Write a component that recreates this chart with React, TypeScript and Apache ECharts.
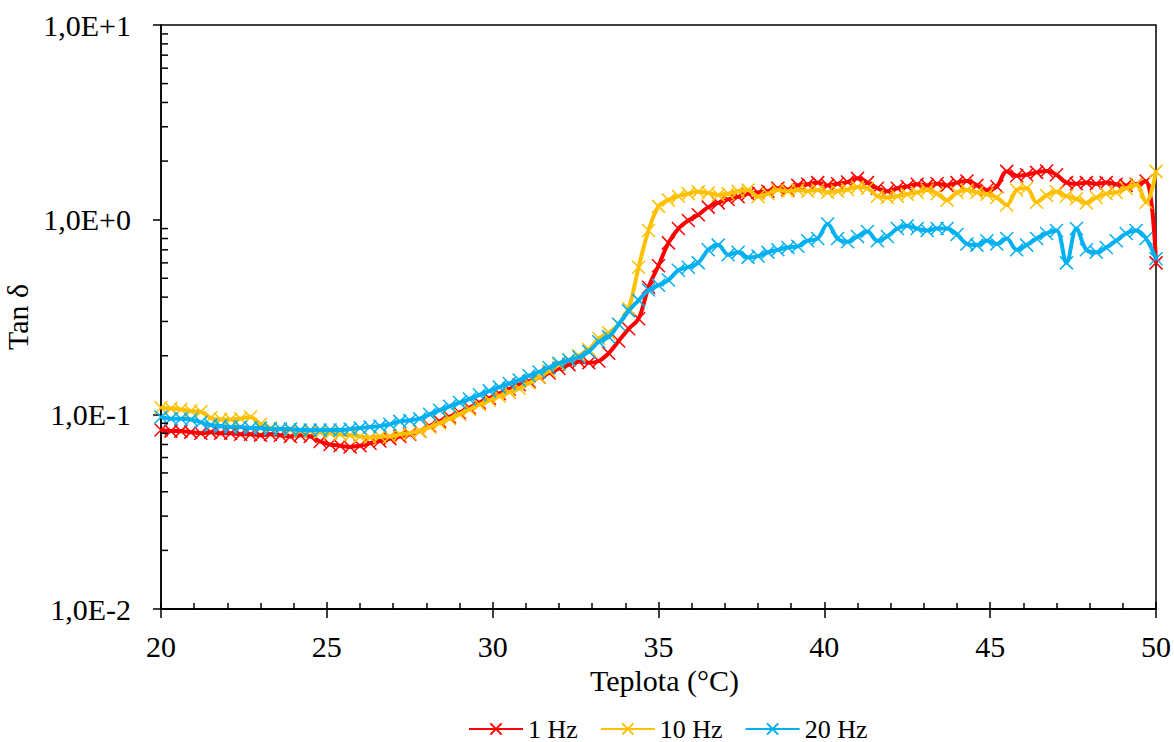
import React, { useEffect, useRef } from "react";
import * as echarts from "echarts";

const temps = [
  20.0, 20.3, 20.6, 20.9, 21.2, 21.5, 21.8, 22.1, 22.4, 22.7,
  23.0, 23.3, 23.6, 23.9, 24.2, 24.5, 24.8, 25.1, 25.4, 25.7,
  26.0, 26.3, 26.6, 26.9, 27.2, 27.5, 27.8, 28.1, 28.4, 28.7,
  29.0, 29.3, 29.6, 29.9, 30.2, 30.5, 30.8, 31.1, 31.4, 31.7,
  32.0, 32.3, 32.6, 32.9, 33.2, 33.5, 33.8, 34.1, 34.4, 34.7,
  35.0, 35.3, 35.6, 35.9, 36.2, 36.5, 36.8, 37.1, 37.4, 37.7,
  38.0, 38.3, 38.6, 38.9, 39.2, 39.5, 39.8, 40.1, 40.4, 40.7,
  41.0, 41.3, 41.6, 41.9, 42.2, 42.5, 42.8, 43.1, 43.4, 43.7,
  44.0, 44.3, 44.6, 44.9, 45.2, 45.5, 45.8, 46.1, 46.4, 46.7,
  47.0, 47.3, 47.6, 47.9, 48.2, 48.5, 48.8, 49.1, 49.4, 49.7,
  50.0,
];

const hz1 = [
  0.083, 0.082, 0.082, 0.081, 0.080, 0.081, 0.080, 0.080, 0.079, 0.079,
  0.078, 0.079, 0.078, 0.077, 0.078, 0.077, 0.0725, 0.070, 0.069, 0.068,
  0.069, 0.071, 0.073, 0.075, 0.077, 0.079, 0.082, 0.087, 0.092, 0.097,
  0.102, 0.108, 0.115, 0.121, 0.128, 0.135, 0.142, 0.148, 0.155, 0.163,
  0.172, 0.180, 0.187, 0.184, 0.188, 0.206, 0.238, 0.275, 0.31, 0.45,
  0.58, 0.76, 0.90, 0.99, 1.06, 1.16, 1.22, 1.27, 1.31, 1.36,
  1.38, 1.40, 1.45, 1.43, 1.50, 1.52, 1.55, 1.50, 1.53, 1.56,
  1.63, 1.55, 1.45, 1.40, 1.45, 1.48, 1.52, 1.50, 1.53, 1.50,
  1.55, 1.58, 1.50, 1.42, 1.48, 1.77, 1.68, 1.70, 1.75, 1.78,
  1.70, 1.55, 1.53, 1.55, 1.53, 1.55, 1.52, 1.50, 1.52, 1.58,
  0.60,
];

const hz10 = [
  0.108, 0.107, 0.106, 0.104, 0.103, 0.096, 0.094, 0.094, 0.095, 0.097,
  0.089, 0.085, 0.084, 0.083, 0.082, 0.082, 0.081, 0.080, 0.079, 0.078,
  0.077, 0.076, 0.077, 0.077, 0.079, 0.080, 0.082, 0.086, 0.090, 0.095,
  0.100, 0.106, 0.112, 0.118, 0.124, 0.130, 0.136, 0.145, 0.155, 0.167,
  0.180, 0.190, 0.200, 0.215, 0.245, 0.262, 0.29, 0.35, 0.57, 0.88,
  1.17, 1.26, 1.32, 1.36, 1.39, 1.37, 1.34, 1.36, 1.40, 1.42,
  1.31, 1.36, 1.42, 1.40, 1.42, 1.40, 1.42, 1.38, 1.40, 1.43,
  1.47, 1.45, 1.32, 1.30, 1.32, 1.35, 1.38, 1.42, 1.36, 1.26,
  1.38, 1.42, 1.38, 1.35, 1.30, 1.19, 1.42, 1.45, 1.23, 1.33,
  1.39, 1.32, 1.28, 1.22, 1.30, 1.36, 1.38, 1.45, 1.51, 1.23,
  1.77,
];

const hz20 = [
  0.097, 0.095, 0.095, 0.094, 0.091, 0.088, 0.087, 0.086, 0.086, 0.085,
  0.085, 0.084, 0.084, 0.084, 0.083, 0.083, 0.083, 0.083, 0.083, 0.084,
  0.085, 0.086, 0.087, 0.089, 0.092, 0.093, 0.095, 0.100, 0.105, 0.110,
  0.115, 0.120, 0.126, 0.132, 0.138, 0.144, 0.150, 0.158, 0.165, 0.174,
  0.183, 0.190, 0.197, 0.210, 0.236, 0.250, 0.290, 0.340, 0.385, 0.435,
  0.46, 0.49, 0.55, 0.57, 0.60, 0.70, 0.74, 0.66, 0.68, 0.64,
  0.65, 0.68, 0.70, 0.72, 0.73, 0.78, 0.80, 0.95, 0.80, 0.77,
  0.82, 0.87, 0.78, 0.82, 0.90, 0.93, 0.90, 0.88, 0.90, 0.90,
  0.84, 0.75, 0.74, 0.78, 0.75, 0.80, 0.70, 0.74, 0.80, 0.85,
  0.88, 0.60, 0.90, 0.70, 0.68, 0.72, 0.78, 0.85, 0.88, 0.80,
  0.63,
];

const seriesNames = ["1 Hz", "10 Hz", "20 Hz"];
const seriesColors = ["#FF0000", "#FFC000", "#00B0F0"];
const xMin = 20;
const xMax = 50;
const yMin = 0.01;
const yMax = 10;
const yMinorTicks = [
  0.02, 0.03, 0.04, 0.05, 0.06, 0.07, 0.08, 0.09,
  0.2, 0.3, 0.4, 0.5, 0.6, 0.7, 0.8, 0.9,
  2, 3, 4, 5, 6, 7, 8, 9,
];

const FONT = "Liberation Serif";
const CROSS = "path://M0,0L10,10M0,10L10,0";

export default function App() {
  const ref = useRef<HTMLDivElement>(null);
  useEffect(() => {
    if (!ref.current) return;
    const chart = echarts.init(ref.current, null, { renderer: "svg" });
    const values = [hz1, hz10, hz20];
    const lineSeries = values.map((vals, i) => ({
      name: seriesNames[i],
      type: "line",
      xAxisIndex: 0,
      yAxisIndex: 0,
      data: temps.map((t, j) => [t, vals[j]]),
      smooth: 0.35,
      symbol: CROSS,
      symbolSize: 13,
      showSymbol: true,
      lineStyle: { color: seriesColors[i], width: 4 },
      itemStyle: { color: seriesColors[i], borderColor: seriesColors[i], borderWidth: 1.5 },
      z: 3 + i,
    }));
    chart.setOption({
      animation: false,
      backgroundColor: "#ffffff",
      textStyle: { fontFamily: FONT, color: "#000" },
      grid: {
        left: 161,
        right: 18,
        top: 25,
        bottom: 133,
        containLabel: false,
        outerBoundsMode: "none",
        show: true,
        borderColor: "#000",
        borderWidth: 1.5,
        backgroundColor: "transparent",
      },
      legend: {
        data: seriesNames,
        left: 463,
        top: 711,
        itemWidth: 54,
        itemHeight: 14,
        itemGap: 22,
        textStyle: { fontFamily: FONT, fontSize: 26, color: "#000" },
      },
      xAxis: [
        {
          type: "value",
          min: xMin,
          max: xMax,
          interval: 5,
          position: "bottom",
          name: "Teplota (°C)",
          nameLocation: "middle",
          nameGap: 56,
          nameTextStyle: { fontFamily: FONT, fontSize: 30, color: "#000", padding: [0, 0, 0, 12] },
          axisLine: { show: true, onZero: false, lineStyle: { color: "#000", width: 1.5 } },
          axisTick: { show: true, inside: false, length: 9, lineStyle: { color: "#000", width: 1.5 } },
          axisLabel: { fontFamily: FONT, fontSize: 30, color: "#000", margin: 22 },
          splitLine: { show: false },
        },
        {
          type: "value",
          min: xMin,
          max: xMax,
          interval: 5,
          position: "bottom",
          axisLine: { show: true, onZero: false, lineStyle: { color: "#000", width: 1.5 } },
          axisTick: { show: true, inside: true, length: 7, lineStyle: { color: "#000", width: 1.5 } },
          minorTick: { show: true, splitNumber: 5, length: 6, lineStyle: { color: "#000", width: 1.5 } },
          axisLabel: { show: false },
          splitLine: { show: false },
        },
      ],
      yAxis: [
        {
          type: "log",
          logBase: 10,
          min: yMin,
          max: yMax,
          interval: 1,
          name: "Tan δ",
          nameLocation: "middle",
          nameGap: 113,
          nameTextStyle: { fontFamily: FONT, fontSize: 30, color: "#000" },
          axisLine: { show: true, onZero: false, lineStyle: { color: "#000", width: 1.5 } },
          axisTick: { show: true, inside: false, length: 8, lineStyle: { color: "#000", width: 1.5 } },
          axisLabel: {
            fontFamily: FONT,
            fontSize: 30,
            color: "#000",
            margin: 30,
            formatter: (v: number) => {
              const e = Math.round(Math.log10(v));
              return "1,0E" + (e >= 0 ? "+" : "-") + Math.abs(e);
            },
          },
          splitLine: { show: false },
        },
      ],
      series: [
        {
          type: "custom",
          name: "minorY",
          silent: true,
          xAxisIndex: 0,
          yAxisIndex: 0,
          clip: false,
          z: 10,
          data: yMinorTicks.map((v) => [xMin, v]),
          renderItem: (params: any, api: any) => {
            const p = api.coord([api.value(0), api.value(1)]);
            return {
              type: "line",
              shape: { x1: p[0], y1: p[1], x2: p[0] + 7, y2: p[1] },
              style: { stroke: "#000", lineWidth: 1.5 },
            };
          },
        },
        ...lineSeries,
      ],
    });
    return () => chart.dispose();
  }, []);
  return (
    <div
      ref={ref}
      style={{ position: "absolute", left: 0, top: 0, width: 1174, height: 742, background: "#fff" }}
    />
  );
}
